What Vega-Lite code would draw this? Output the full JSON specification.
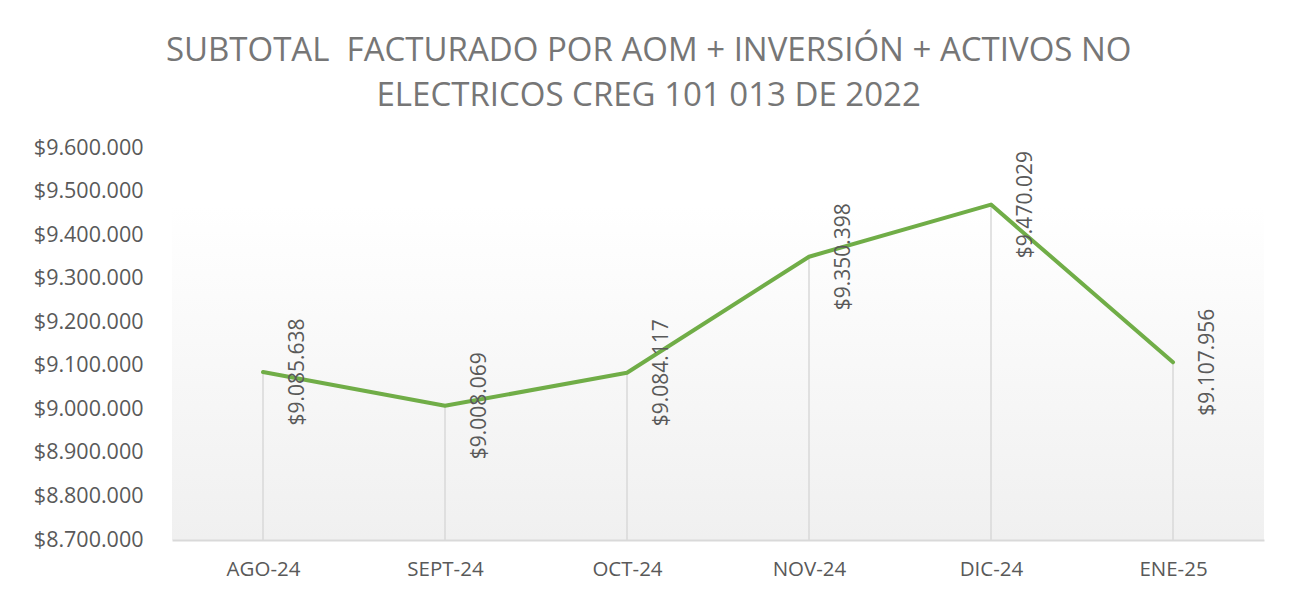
{
  "$schema": "https://vega.github.io/schema/vega-lite/v6.json",
  "width": 1092,
  "height": 392,
  "autosize": {"type": "none"},
  "padding": {"left": 172, "top": 148, "right": 31, "bottom": 60},
  "background": "white",
  "config": {
    "locale": {"number": {"decimal": ",", "thousands": ".", "grouping": [3], "currency": ["$", ""]}},
    "font": "Open Sans",
    "view": {"stroke": null, "fill": {"gradient": "linear", "x1": 0, "y1": 0, "x2": 0, "y2": 1, "stops": [{"offset": 0, "color": "#ffffff"}, {"offset": 0.15, "color": "#ffffff"}, {"offset": 1, "color": "#f0f0f0"}]}}
  },
  "title": {
    "text": ["SUBTOTAL\u00a0 FACTURADO POR AOM + INVERSIÓN + ACTIVOS NO", "ELECTRICOS CREG 101 013 DE 2022"],
    "font": "Open Sans",
    "fontSize": 33,
    "fontWeight": "normal",
    "color": "#767676",
    "anchor": "middle",
    "frame": "bounds",
    "lineHeight": 45,
    "offset": 24
  },
  "data": {
    "values": [
      {"mes": "AGO-24", "valor": 9085638},
      {"mes": "SEPT-24", "valor": 9008069},
      {"mes": "OCT-24", "valor": 9084117},
      {"mes": "NOV-24", "valor": 9350398},
      {"mes": "DIC-24", "valor": 9470029},
      {"mes": "ENE-25", "valor": 9107956}
    ]
  },
  "encoding": {
    "x": {
      "field": "mes",
      "type": "ordinal",
      "sort": null,
      "scale": {"type": "point", "padding": 0.5},
      "axis": {
        "title": null,
        "labelAngle": 0,
        "labelFont": "Open Sans",
        "labelFontSize": 20.5,
        "labelColor": "#595959",
        "labelPadding": 19,
        "ticks": false,
        "domainColor": "#d9d9d9",
        "domainWidth": 2,
        "grid": false
      }
    },
    "y": {
      "field": "valor",
      "type": "quantitative",
      "scale": {"domain": [8700000, 9600000], "nice": false, "zero": false},
      "axis": {
        "title": null,
        "format": "$,.0f",
        "values": [8700000, 8800000, 8900000, 9000000, 9100000, 9200000, 9300000, 9400000, 9500000, 9600000],
        "labelFont": "Open Sans",
        "labelFontSize": 21.5,
        "labelColor": "#595959",
        "labelPadding": 29,
        "ticks": false,
        "domain": false,
        "grid": false
      }
    }
  },
  "layer": [
    {
      "mark": {"type": "rule", "color": "#d9d9d9", "strokeWidth": 1.5},
      "encoding": {"y2": {"datum": 8700000}}
    },
    {
      "mark": {"type": "line", "color": "#70ad47", "strokeWidth": 4, "strokeCap": "round", "strokeJoin": "round"}
    },
    {
      "mark": {"type": "text", "angle": -90, "align": "center", "baseline": "middle", "dy": 35, "font": "Open Sans", "fontSize": 21, "color": "#595959"},
      "encoding": {"text": {"field": "valor", "type": "quantitative", "format": "$,.0f"}}
    }
  ]
}
